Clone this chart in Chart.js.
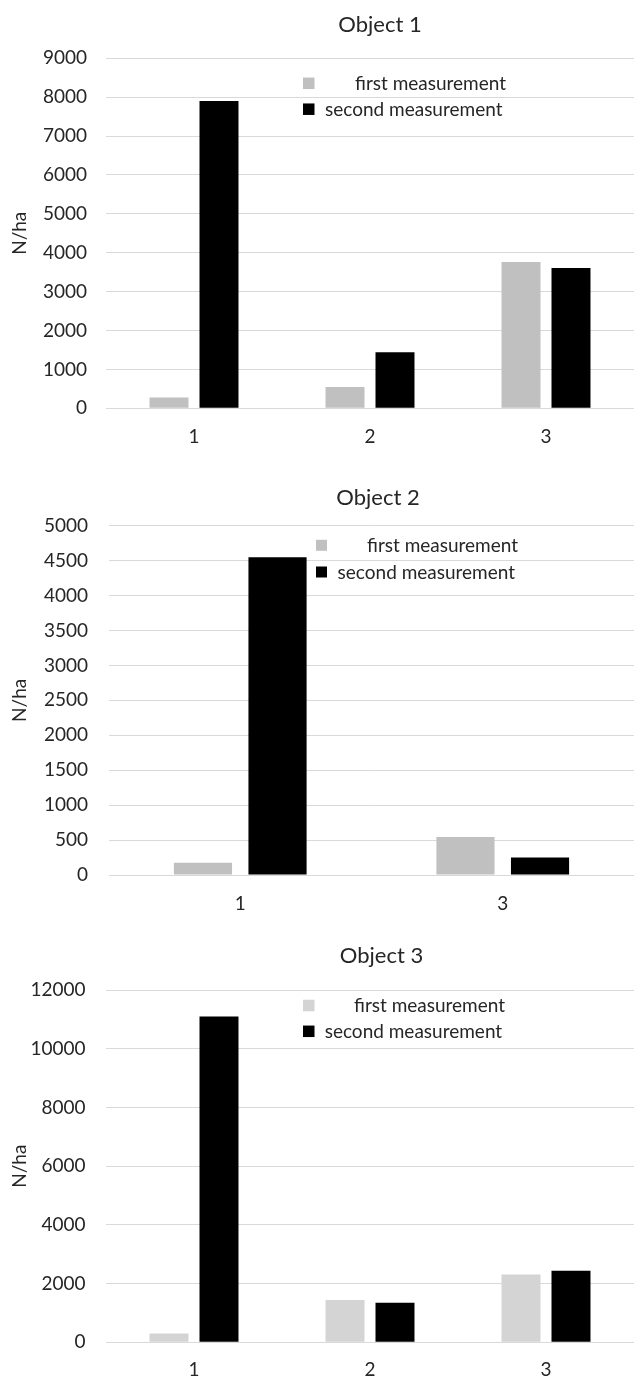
<!DOCTYPE html>
<html>
<head>
<meta charset="utf-8">
<script src="https://cdn.jsdelivr.net/npm/chart.js@4.4.1/dist/chart.umd.min.js"></script>
<style>
html,body{margin:0;padding:0;background:#fff;width:634px;height:1377px;overflow:hidden;}
canvas{position:absolute;left:0;}
</style>
</head>
<body>
<canvas id="c1" width="634" height="460" style="top:0px"></canvas>
<canvas id="c2" width="634" height="455" style="top:460px"></canvas>
<canvas id="c3" width="634" height="462" style="top:915px"></canvas>
<script>
// ---- data ----
const seriesNames = ['first measurement', 'second measurement'];
const chartTitles = ['Object 1', 'Object 2', 'Object 3'];
const yAxisTitle = 'N/ha';

const categories1 = ['1', '2', '3'];
const firstMeasurement1 = [280, 550, 3760];
const secondMeasurement1 = [7900, 1440, 3610];
const yTicks1 = [0, 1000, 2000, 3000, 4000, 5000, 6000, 7000, 8000, 9000];

const categories2 = ['1', '3'];
const firstMeasurement2 = [175, 545];
const secondMeasurement2 = [4550, 250];
const yTicks2 = [0, 500, 1000, 1500, 2000, 2500, 3000, 3500, 4000, 4500, 5000];

const categories3 = ['1', '2', '3'];
const firstMeasurement3 = [300, 1440, 2310];
const secondMeasurement3 = [11100, 1350, 2440];
const yTicks3 = [0, 2000, 4000, 6000, 8000, 10000, 12000];

// ---- drawing ----
const FONT = 'Lato';
const TEXT = '#262626';

const overlay = {
  id: 'overlay',
  afterDraw(chart, args, o) {
    const ctx = chart.ctx;
    ctx.save();
    ctx.fillStyle = TEXT;
    ctx.font = '22px ' + FONT;
    ctx.textAlign = 'center';
    ctx.textBaseline = 'alphabetic';
    ctx.fillText(o.title, o.titleX, o.titleY);
    ctx.font = '19px ' + FONT;
    ctx.textAlign = 'left';
    chart.data.datasets.forEach((ds, i) => {
      const cy = o.legendY[i];
      ctx.fillStyle = ds.backgroundColor;
      ctx.fillRect(o.boxX, cy - o.box / 2, o.box, o.box);
      ctx.fillStyle = TEXT;
      ctx.fillText(ds.label, o.textX[i], cy + 6.7);
    });
    ctx.restore();
  }
};

function makeChart(id, cats, a, b, ticks, lightColor, L) {
  return new Chart(document.getElementById(id), {
    type: 'bar',
    data: {
      labels: cats,
      datasets: [
        { label: seriesNames[0], data: a, backgroundColor: lightColor },
        { label: seriesNames[1], data: b, backgroundColor: '#000000' }
      ]
    },
    options: {
      responsive: false,
      animation: false,
      devicePixelRatio: 1,
      layout: { padding: { top: L.top, bottom: 0, left: 0, right: 0 } },
      datasets: { bar: { categoryPercentage: 0.568, barPercentage: 0.78 } },
      plugins: {
        legend: { display: false },
        title: { display: false },
        tooltip: { enabled: false },
        overlay: L.overlay
      },
      scales: {
        x: {
          grid: { display: false },
          border: { display: false },
          ticks: { font: { family: FONT, size: 19 }, color: TEXT, padding: L.xpad },
          afterFit(s) { s.height = L.xh; }
        },
        y: {
          min: 0,
          max: ticks[ticks.length - 1],
          grid: { color: '#d9d9d9', lineWidth: 1, drawTicks: false },
          border: { display: false },
          ticks: {
            font: { family: FONT, size: 19 }, color: TEXT, padding: L.ypad,
            callback: v => String(v)
          },
          afterBuildTicks(s) { s.ticks = ticks.map(v => ({ value: v })); },
          afterFit(s) { s.width = L.yw; },
          title: {
            display: true, text: yAxisTitle, color: TEXT,
            font: { family: FONT, size: 19 }, padding: { top: 8, bottom: 0 }
          }
        }
      }
    },
    plugins: [overlay]
  });
}

function build() {
  makeChart('c1', categories1, firstMeasurement1, secondMeasurement1, yTicks1, '#c0c0c0', {
    top: 58.3, xh: 51.7, xpad: 9, yw: 106, ypad: 19,
    overlay: { title: chartTitles[0], titleX: 380, titleY: 31.6, boxX: 303, box: 11.5,
               legendY: [83.3, 109.2], textX: [355, 325] }
  });
  makeChart('c2', categories2, firstMeasurement2, secondMeasurement2, yTicks2, '#c0c0c0', {
    top: 65.7, xh: 40, xpad: 9, yw: 109, ypad: 21,
    overlay: { title: chartTitles[1], titleX: 378, titleY: 44.6, boxX: 316, box: 11,
               legendY: [85.3, 112], textX: [367, 337.6] }
  });
  makeChart('c3', categories3, firstMeasurement3, secondMeasurement3, yTicks3, '#d4d4d4', {
    top: 75, xh: 34.7, xpad: 8, yw: 106, ypad: 20.5,
    overlay: { title: chartTitles[2], titleX: 381.5, titleY: 47.9, boxX: 303, box: 11.5,
               legendY: [90.5, 116.3], textX: [354, 324.7] }
  });
}

if (document.fonts && document.fonts.load) {
  Promise.all([document.fonts.load('19px Lato'), document.fonts.load('22px Lato')])
    .then(build, build);
} else {
  build();
}
</script>
</body>
</html>
